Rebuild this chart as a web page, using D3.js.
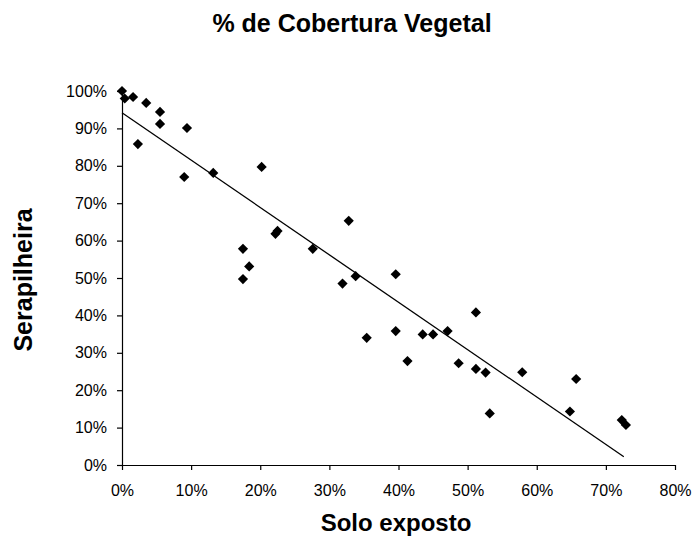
<!DOCTYPE html>
<html>
<head>
<meta charset="utf-8">
<script src="https://cdnjs.cloudflare.com/ajax/libs/d3/7.8.5/d3.min.js"></script>
<style>
  body { margin: 0; background: #fff; }
  text { font-family: "Liberation Sans", Arial, sans-serif; fill: #000; }
</style>
</head>
<body>
<div id="chart"></div>
<script>
// data (fractions)
var soloExposto = [0, 0.004, 0.016, 0.035, 0.055, 0.055, 0.094, 0.023, 0.090, 0.132,
    0.202, 0.222, 0.225, 0.175, 0.184, 0.175, 0.276, 0.328, 0.338, 0.319,
    0.396, 0.396, 0.354, 0.435, 0.450, 0.471, 0.413, 0.512, 0.487, 0.512,
    0.526, 0.579, 0.532, 0.657, 0.648, 0.723, 0.729];
var serapilheira = [1.00, 0.980, 0.984, 0.968, 0.944, 0.912, 0.901, 0.858, 0.770, 0.781,
    0.797, 0.618, 0.626, 0.578, 0.531, 0.497, 0.578, 0.653, 0.505, 0.485,
    0.510, 0.358, 0.340, 0.349, 0.349, 0.358, 0.278, 0.408, 0.272, 0.257,
    0.247, 0.248, 0.138, 0.230, 0.143, 0.120, 0.107];
// linear trendline as drawn in the picture
var trendIntercept = 0.942;
var trendSlope = -1.267;
var xTicks = [0, 0.1, 0.2, 0.3, 0.4, 0.5, 0.6, 0.7, 0.8];
var yTicks = [0, 0.1, 0.2, 0.3, 0.4, 0.5, 0.6, 0.7, 0.8, 0.9, 1.0];

var svgWidth = 694;
var svgHeight = 544;

var svg = d3.select("#chart")
    .append("svg")
    .attr("width", svgWidth)
    .attr("height", svgHeight);

var x = d3.scaleLinear().domain([0, 0.8]).range([122, 675]);
var y = d3.scaleLinear().domain([0, 1]).range([465, 91]);

var fmt = d3.format(".0%");

// axes
var xAxis = svg.append("g")
    .attr("transform", "translate(0,465)")
    .call(d3.axisBottom(x).tickValues(xTicks).tickFormat(fmt).tickSize(5).tickSizeOuter(0).tickPadding(15));
var yAxis = svg.append("g")
    .attr("transform", "translate(122,0)")
    .call(d3.axisLeft(y).tickValues(yTicks).tickFormat(fmt).tickSize(5).tickSizeOuter(0).tickPadding(10));

[xAxis, yAxis].forEach(function(a) {
    a.selectAll("path, line").attr("stroke", "#000").attr("stroke-width", 1.2);
    a.selectAll("text").style("font-size", "16px").attr("fill", "#000");
});

// trend line, from min to max of the data
var pts = soloExposto.map(function(v, i) { return [v, serapilheira[i]]; });
var x0 = d3.min(soloExposto), x1 = 0.726;

svg.append("line")
    .attr("x1", x(x0)).attr("y1", y(trendIntercept + trendSlope * x0))
    .attr("x2", x(x1)).attr("y2", y(trendIntercept + trendSlope * x1))
    .attr("stroke", "#000")
    .attr("stroke-width", 1.3);

// diamonds
var diamond = d3.symbol().type(d3.symbolSquare).size(52);
svg.selectAll(".pt")
    .data(pts)
    .enter()
    .append("path")
    .attr("class", "pt")
    .attr("d", diamond)
    .attr("transform", d => `translate(${x(d[0])},${y(d[1])}) rotate(45)`)
    .attr("fill", "#000");

// titles
svg.append("text")
    .attr("x", 352)
    .attr("y", 32)
    .attr("text-anchor", "middle")
    .style("font-size", "25px")
    .style("font-weight", "bold")
    .text("% de Cobertura Vegetal");

svg.append("text")
    .attr("x", 396)
    .attr("y", 531)
    .attr("text-anchor", "middle")
    .style("font-size", "24px")
    .style("font-weight", "bold")
    .text("Solo exposto");

svg.append("text")
    .attr("transform", "translate(32,280) rotate(-90)")
    .attr("text-anchor", "middle")
    .style("font-size", "25px")
    .style("font-weight", "bold")
    .text("Serapilheira");
</script>
</body>
</html>
